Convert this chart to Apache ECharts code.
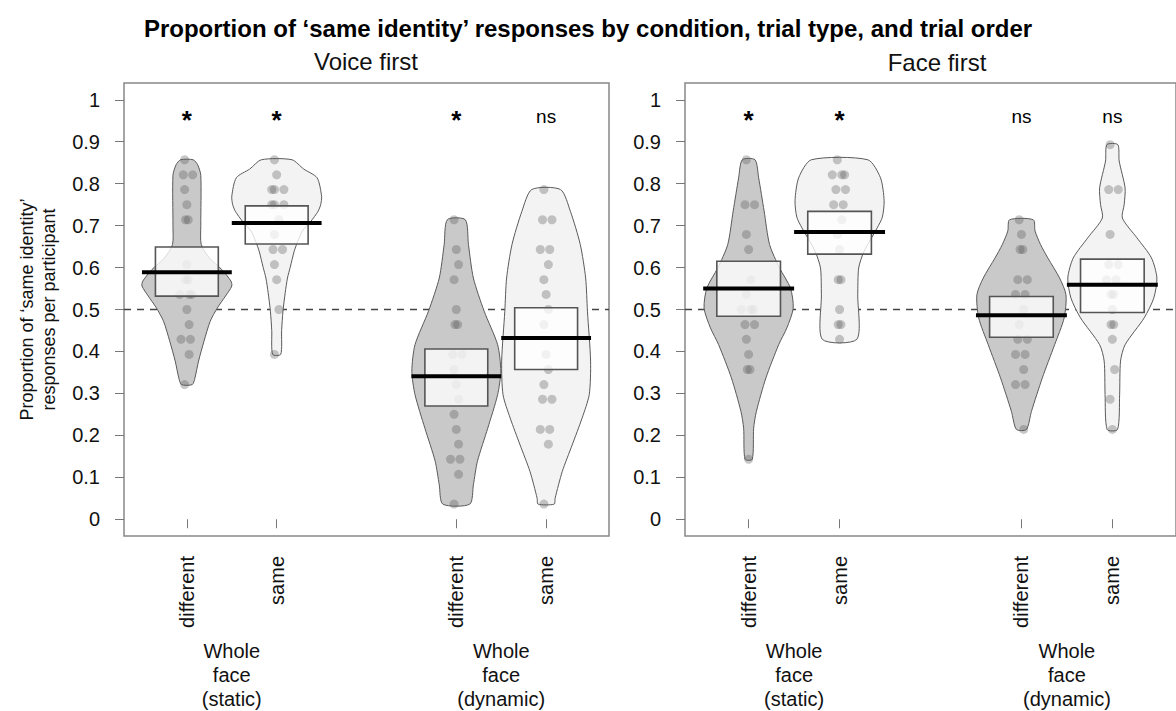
<!DOCTYPE html>
<html><head><meta charset="utf-8">
<script src="https://cdn.jsdelivr.net/npm/echarts@6/dist/echarts.min.js"></script>
<style>html,body{margin:0;padding:0;background:#fff}#c{width:1176px;height:711px}</style>
</head><body><div id="c"></div>
<script>
// ---------- data ----------
const mainTitle = 'Proportion of ‘same identity’ responses by condition, trial type, and trial order';
const panelTitles = ['Voice first', 'Face first'];
const yAxisTitle = 'Proportion of ‘same identity’\nresponses per participant';
const beanX = [1, 2, 4, 5];
const trialTypes = ['different', 'same', 'different', 'same'];
const groupX = [1.5, 4.5];
const groupLabels = ['Whole\nface\n(static)', 'Whole\nface\n(dynamic)'];
const yTicks = [0, 0.1, 0.2, 0.3, 0.4, 0.5, 0.6, 0.7, 0.8, 0.9, 1];
const chanceLevel = 0.5;

// Voice first panel
const voicePoints = [
  [0.857, 0.821, 0.821, 0.786, 0.75, 0.714, 0.714, 0.607, 0.571, 0.571, 0.536, 0.536, 0.536, 0.5, 0.464, 0.429, 0.429, 0.393, 0.321],
  [0.857, 0.821, 0.786, 0.786, 0.786, 0.75, 0.75, 0.75, 0.714, 0.679, 0.643, 0.643, 0.607, 0.571, 0.5, 0.393],
  [0.714, 0.643, 0.607, 0.571, 0.5, 0.464, 0.464, 0.393, 0.393, 0.357, 0.321, 0.286, 0.25, 0.214, 0.179, 0.143, 0.143, 0.107, 0.036],
  [0.786, 0.714, 0.714, 0.643, 0.643, 0.607, 0.571, 0.536, 0.5, 0.464, 0.393, 0.357, 0.321, 0.286, 0.286, 0.214, 0.214, 0.179, 0.036]
];
const voiceMeans = [0.589, 0.706, 0.341, 0.432];
const voiceBoxLow = [0.532, 0.656, 0.270, 0.357];
const voiceBoxHigh = [0.649, 0.747, 0.406, 0.504];
const voiceSig = ['*', '*', '*', 'ns'];
// violin outlines: [value, half-width in x units], top to bottom
const voiceViolins = [
  [[0.857,0.07],[0.845,0.12],[0.82,0.155],[0.70,0.155],[0.655,0.16],[0.623,0.25],[0.595,0.39],[0.568,0.49],[0.556,0.50],[0.532,0.43],[0.504,0.34],[0.472,0.26],[0.424,0.19],[0.377,0.13],[0.337,0.09],[0.321,0.06]],
  [[0.857,0.17],[0.835,0.30],[0.814,0.45],[0.77,0.50],[0.75,0.49],[0.734,0.46],[0.71,0.38],[0.687,0.285],[0.66,0.23],[0.639,0.195],[0.60,0.15],[0.575,0.12],[0.54,0.095],[0.496,0.07],[0.45,0.055],[0.393,0.045]],
  [[0.714,0.10],[0.655,0.135],[0.575,0.19],[0.496,0.31],[0.416,0.46],[0.353,0.495],[0.297,0.46],[0.217,0.35],[0.138,0.235],[0.082,0.19],[0.036,0.15]],
  [[0.786,0.16],[0.734,0.27],[0.655,0.38],[0.575,0.44],[0.496,0.46],[0.377,0.495],[0.297,0.48],[0.241,0.40],[0.177,0.29],[0.114,0.18],[0.05,0.10],[0.036,0.09]]
];

// Face first panel
const facePoints = [
  [0.857, 0.75, 0.75, 0.679, 0.643, 0.571, 0.536, 0.5, 0.5, 0.5, 0.464, 0.464, 0.429, 0.393, 0.357, 0.357, 0.143],
  [0.857, 0.821, 0.821, 0.821, 0.786, 0.786, 0.75, 0.75, 0.714, 0.679, 0.643, 0.571, 0.571, 0.5, 0.464, 0.464, 0.429],
  [0.714, 0.679, 0.643, 0.643, 0.571, 0.571, 0.536, 0.536, 0.5, 0.464, 0.429, 0.429, 0.393, 0.393, 0.357, 0.321, 0.321, 0.214],
  [0.893, 0.786, 0.786, 0.679, 0.607, 0.607, 0.571, 0.571, 0.536, 0.536, 0.5, 0.464, 0.464, 0.429, 0.357, 0.286, 0.214]
];
const faceMeans = [0.550, 0.685, 0.486, 0.559];
const faceBoxLow = [0.484, 0.632, 0.434, 0.493];
const faceBoxHigh = [0.615, 0.734, 0.531, 0.620];
const faceSig = ['*', '*', 'ns', 'ns'];
const faceViolins = [
  [[0.857,0.07],[0.814,0.11],[0.735,0.17],[0.655,0.23],[0.599,0.34],[0.551,0.46],[0.503,0.49],[0.456,0.42],[0.416,0.33],[0.337,0.19],[0.257,0.085],[0.217,0.055],[0.143,0.04]],
  [[0.857,0.31],[0.814,0.45],[0.759,0.49],[0.72,0.47],[0.695,0.415],[0.639,0.27],[0.599,0.21],[0.535,0.20],[0.429,0.19]],
  [[0.714,0.13],[0.687,0.15],[0.655,0.21],[0.623,0.29],[0.575,0.42],[0.535,0.49],[0.48,0.47],[0.416,0.365],[0.337,0.23],[0.257,0.11],[0.214,0.055]],
  [[0.893,0.06],[0.854,0.075],[0.79,0.14],[0.75,0.13],[0.718,0.11],[0.671,0.27],[0.623,0.43],[0.575,0.49],[0.527,0.455],[0.48,0.35],[0.416,0.14],[0.377,0.09],[0.297,0.08],[0.214,0.057]]
];

// ---------- styling / layout ----------
const FONT = '"Liberation Sans", Arial, Helvetica, sans-serif';
const X_MIN = 0.3, X_MAX = 5.7, Y_MIN = -0.04, Y_MAX = 1.04;
const SIG_Y = 0.96;
const BOX_HW = 0.35, MEAN_HW = 0.5;
const beanFill = ['#c9c9c9', '#f3f3f3', '#c9c9c9', '#f3f3f3'];

const panels = [
  {points: voicePoints, means: voiceMeans, lo: voiceBoxLow, hi: voiceBoxHigh, sig: voiceSig, violins: voiceViolins},
  {points: facePoints, means: faceMeans, lo: faceBoxLow, hi: faceBoxHigh, sig: faceSig, violins: faceViolins}
];

function jittered(vals, x) {
  const counts = {}, seen = {};
  vals.forEach(v => counts[v] = (counts[v] || 0) + 1);
  return vals.map((v, i) => {
    const k = counts[v], j = (seen[v] = (seen[v] || 0) + 1) - 1;
    let off = k === 1 ? 0 : (j - (k - 1) / 2) * 0.08;
    off += ((i % 3) - 1) * 0.025;
    return [x + off, v];
  });
}

const series = [];
panels.forEach((p, pi) => {
  const xi = pi, yi = pi;
  // chance line
  series.push({type: 'line', xAxisIndex: xi, yAxisIndex: yi, z: 1, silent: true, symbol: 'none',
    data: [[X_MIN, chanceLevel], [X_MAX, chanceLevel]],
    lineStyle: {color: '#444', width: 1.3, type: [7, 6]}});
  // violins
  series.push({type: 'custom', xAxisIndex: xi, yAxisIndex: yi, z: 2, silent: true,
    data: beanX.map((x, i) => [x, i]),
    renderItem: (params, api) => {
      const x = api.value(0), i = api.value(1);
      const ol = p.violins[i];
      const right = ol.map(([v, w]) => api.coord([x + w, v]));
      const left = ol.slice().reverse().map(([v, w]) => api.coord([x - w, v]));
      return {type: 'polygon', shape: {points: right.concat(left), smooth: 0.25},
        style: {fill: beanFill[i], stroke: '#5a5a5a', lineWidth: 1}};
    }});
  // points
  const pts = [];
  p.points.forEach((vals, i) => jittered(vals, beanX[i]).forEach(d => pts.push(d)));
  series.push({type: 'scatter', xAxisIndex: xi, yAxisIndex: yi, z: 3, silent: true,
    symbolSize: 9, data: pts, itemStyle: {color: 'rgba(85,85,85,0.32)', opacity: 1}});
  // boxes
  series.push({type: 'custom', xAxisIndex: xi, yAxisIndex: yi, z: 4, silent: true,
    data: beanX.map((x, i) => [x, p.lo[i], p.hi[i]]),
    renderItem: (params, api) => {
      const x = api.value(0);
      const a = api.coord([x - BOX_HW, api.value(2)]);
      const b = api.coord([x + BOX_HW, api.value(1)]);
      return {type: 'rect', shape: {x: a[0], y: a[1], width: b[0] - a[0], height: b[1] - a[1]},
        style: {fill: 'rgba(255,255,255,0.78)', stroke: '#555', lineWidth: 1.6}};
    }});
  // means
  series.push({type: 'custom', xAxisIndex: xi, yAxisIndex: yi, z: 5, silent: true,
    data: beanX.map((x, i) => [x, p.means[i]]),
    renderItem: (params, api) => {
      const x = api.value(0), m = api.value(1);
      const a = api.coord([x - MEAN_HW, m]), b = api.coord([x + MEAN_HW, m]);
      return {type: 'line', shape: {x1: a[0], y1: a[1], x2: b[0], y2: b[1]},
        style: {stroke: '#000', lineWidth: 4}};
    }});
  // significance labels
  series.push({type: 'scatter', xAxisIndex: xi, yAxisIndex: yi, z: 6, silent: true, symbolSize: 0,
    itemStyle: {opacity: 1},
    data: beanX.map((x, i) => ({value: [x, SIG_Y], label: {show: true, position: 'inside', opacity: 1,
      formatter: p.sig[i], fontFamily: FONT, color: '#000', textBorderWidth: 0,
      fontSize: p.sig[i] === '*' ? 26 : 19, fontWeight: p.sig[i] === '*' ? 'bold' : 'normal',
      offset: [0, p.sig[i] === '*' ? 3 : 0]}}))});
});

const grids = [
  {left: 124, top: 83, width: 485, height: 454},
  {left: 685, top: 83, width: 503, height: 454}
];

const xAxes = [], yAxes = [];
[0, 1].forEach(g => {
  xAxes.push({gridIndex: g, type: 'value', min: X_MIN, max: X_MAX, position: 'bottom',
    axisLine: {show: false}, splitLine: {show: false},
    axisTick: {show: true, customValues: beanX, length: 9, lineStyle: {color: '#777', width: 1}},
    axisLabel: {customValues: beanX, rotate: 90, margin: 20, fontSize: 20, fontFamily: FONT, color: '#111',
      formatter: v => trialTypes[beanX.indexOf(v)]}});
});
[0, 1].forEach(g => {
  xAxes.push({gridIndex: g, type: 'value', min: X_MIN, max: X_MAX, position: 'bottom',
    axisLine: {show: false}, splitLine: {show: false}, axisTick: {show: false},
    axisLabel: {customValues: groupX, margin: 103, fontSize: 20, lineHeight: 24, fontFamily: FONT, color: '#111',
      formatter: v => groupLabels[groupX.indexOf(v)]}});
});
[0, 1].forEach(g => {
  const y = {gridIndex: g, type: 'value', min: Y_MIN, max: Y_MAX,
    axisLine: {show: false}, splitLine: {show: false},
    axisTick: {show: true, customValues: yTicks, length: 9, lineStyle: {color: '#777', width: 1}},
    axisLabel: {customValues: yTicks, margin: 24, fontSize: 20, fontFamily: FONT, color: '#111',
      formatter: v => String(parseFloat(Number(v).toFixed(2)))}};
  if (g === 0) {
    Object.assign(y, {name: yAxisTitle, nameLocation: 'middle', nameGap: 64, nameRotate: 90,
      nameTextStyle: {fontSize: 18, lineHeight: 22, fontFamily: FONT, color: '#111'}});
  }
  yAxes.push(y);
});

const chart = echarts.init(document.getElementById('c'), null, {renderer: 'svg'});
chart.setOption({
  backgroundColor: '#fff',
  animation: false,
  grid: grids.map(g => Object.assign({show: true, borderColor: '#888', borderWidth: 1.5, backgroundColor: 'transparent'}, g)),
  xAxis: xAxes,
  yAxis: yAxes,
  graphic: [
    {type: 'text', x: 588, y: 28, silent: true, style: {text: mainTitle, font: 'bold 24px ' + FONT, fill: '#000', align: 'center', verticalAlign: 'middle'}},
    {type: 'text', x: 366, y: 61, silent: true, style: {text: panelTitles[0], font: '24px ' + FONT, fill: '#111', align: 'center', verticalAlign: 'middle'}},
    {type: 'text', x: 937, y: 62, silent: true, style: {text: panelTitles[1], font: '24px ' + FONT, fill: '#111', align: 'center', verticalAlign: 'middle'}}
  ],
  series: series
});
</script></body></html>
